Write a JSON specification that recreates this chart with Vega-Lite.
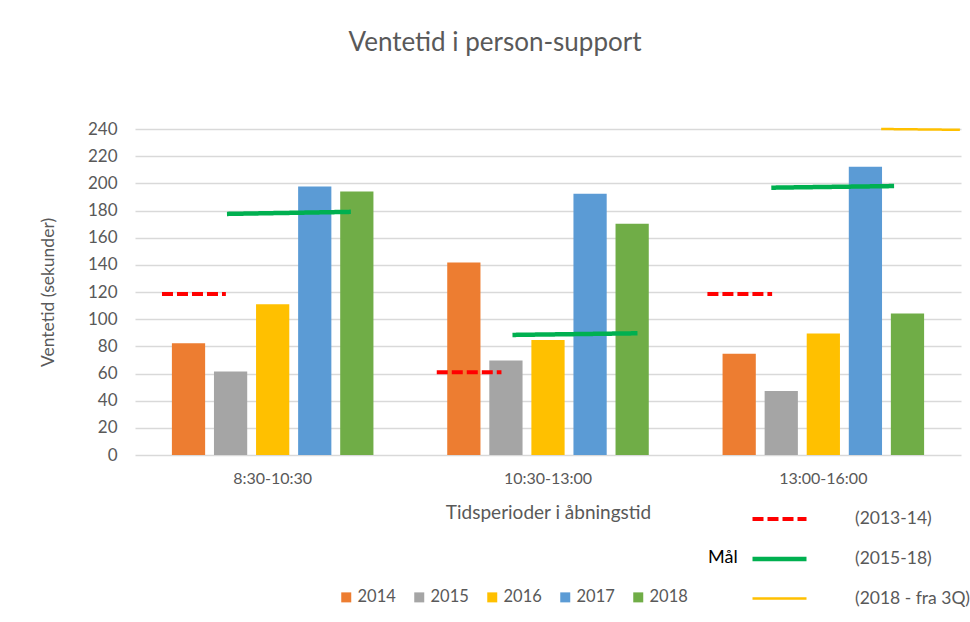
{
  "$schema": "https://vega.github.io/schema/vega-lite/v6.json",
  "width": 826,
  "height": 326,
  "autosize": {"type": "none"},
  "padding": {"left": 135, "top": 129, "right": 9, "bottom": 167},
  "background": "white",
  "config": {"font": "Lato", "view": {"stroke": null}},
  "title": {
    "text": "Ventetid i person-support",
    "fontSize": 26,
    "fontWeight": "normal",
    "color": "#595959",
    "anchor": "middle",
    "frame": "group",
    "dx": -53,
    "baseline": "alphabetic",
    "offset": 43
  },
  "datasets": {
    "bars": [
      {"periode": "8:30-10:30", "år": "2014", "sekunder": 82.3},
      {"periode": "8:30-10:30", "år": "2015", "sekunder": 61.4},
      {"periode": "8:30-10:30", "år": "2016", "sekunder": 111},
      {"periode": "8:30-10:30", "år": "2017", "sekunder": 197.7},
      {"periode": "8:30-10:30", "år": "2018", "sekunder": 194},
      {"periode": "10:30-13:00", "år": "2014", "sekunder": 141.7},
      {"periode": "10:30-13:00", "år": "2015", "sekunder": 69.5},
      {"periode": "10:30-13:00", "år": "2016", "sekunder": 84.7},
      {"periode": "10:30-13:00", "år": "2017", "sekunder": 192.3},
      {"periode": "10:30-13:00", "år": "2018", "sekunder": 170.2},
      {"periode": "13:00-16:00", "år": "2014", "sekunder": 74.6},
      {"periode": "13:00-16:00", "år": "2015", "sekunder": 47.2},
      {"periode": "13:00-16:00", "år": "2016", "sekunder": 89.4},
      {"periode": "13:00-16:00", "år": "2017", "sekunder": 212.2},
      {"periode": "13:00-16:00", "år": "2018", "sekunder": 104.1}
    ],
    "goals": [
      {"mål": "(2013-14)", "fra": 0.098, "til": 0.33, "start": 118.6, "slut": 118.6},
      {"mål": "(2015-18)", "fra": 0.334, "til": 0.784, "start": 177.5, "slut": 179},
      {"mål": "(2013-14)", "fra": 1.096, "til": 1.331, "start": 61, "slut": 61},
      {"mål": "(2015-18)", "fra": 1.371, "til": 1.825, "start": 88.4, "slut": 89.6},
      {"mål": "(2013-14)", "fra": 2.079, "til": 2.314, "start": 118.6, "slut": 118.6},
      {"mål": "(2015-18)", "fra": 2.311, "til": 2.757, "start": 196.8, "slut": 198},
      {"mål": "(2018 - fra 3Q)", "fra": 2.71, "til": 2.996, "start": 240, "slut": 239.4}
    ]
  },
  "layer": [
    {
      "data": {"name": "bars"},
      "mark": {"type": "bar"},
      "encoding": {
        "x": {
          "field": "periode",
          "type": "nominal",
          "sort": ["8:30-10:30", "10:30-13:00", "13:00-16:00"],
          "scale": {"paddingInner": 0.268, "paddingOuter": 0.134},
          "title": "Tidsperioder i åbningstid",
          "axis": {
            "labelAngle": 0,
            "labelFontSize": 16,
            "labelColor": "#595959",
            "labelPadding": 15,
            "ticks": false,
            "tickSize": 0,
            "domain": false,
            "titleFontSize": 19,
            "titleFontWeight": "normal",
            "titleColor": "#595959",
            "titleBaseline": "middle",
            "titleY": 57
          }
        },
        "xOffset": {
          "field": "år",
          "type": "nominal",
          "scale": {"paddingInner": 0.21, "paddingOuter": 0}
        },
        "y": {
          "field": "sekunder",
          "type": "quantitative",
          "scale": {"domain": [0, 240]},
          "title": "Ventetid (sekunder)",
          "axis": {
            "values": [0, 20, 40, 60, 80, 100, 120, 140, 160, 180, 200, 220, 240],
            "tickCount": 30,
            "labelOverlap": false,
            "domain": false,
            "ticks": false,
            "labelFontSize": 17,
            "labelColor": "#595959",
            "labelPadding": 18,
            "gridColor": "#d9d9d9",
            "gridWidth": 1.3,
            "titleFontSize": 17.5,
            "titleFontWeight": "normal",
            "titleColor": "#595959",
            "titleX": -87,
            "titleY": 163,
            "titleAngle": -90,
            "titleAlign": "center",
            "titleBaseline": "middle"
          }
        },
        "color": {
          "field": "år",
          "type": "nominal",
          "scale": {
            "domain": ["2014", "2015", "2016", "2017", "2018"],
            "range": ["#ED7D31", "#A5A5A5", "#FFC000", "#5B9BD5", "#70AD47"]
          },
          "legend": {
            "orient": "none",
            "legendX": 203,
            "legendY": 460,
            "direction": "horizontal",
            "title": null,
            "symbolType": "square",
            "symbolSize": 100,
            "symbolStrokeWidth": 0,
            "labelFontSize": 16.5,
            "labelColor": "#595959",
            "labelOffset": 3,
            "columnPadding": 15,
            "padding": 0
          }
        }
      }
    },
    {
      "data": {"name": "goals"},
      "mark": {"type": "rule"},
      "encoding": {
        "x": {"field": "fra", "type": "quantitative", "scale": {"domain": [0, 3]}, "axis": null},
        "x2": {"field": "til"},
        "y": {
          "field": "start",
          "type": "quantitative",
          "title": "Ventetid (sekunder)",
          "axis": {
            "values": [0, 20, 40, 60, 80, 100, 120, 140, 160, 180, 200, 220, 240],
            "tickCount": 30,
            "labelOverlap": false,
            "domain": false,
            "ticks": false,
            "labelFontSize": 17,
            "labelColor": "#595959",
            "labelPadding": 18,
            "gridColor": "#d9d9d9",
            "gridWidth": 1.3,
            "titleFontSize": 17.5,
            "titleFontWeight": "normal",
            "titleColor": "#595959",
            "titleX": -87,
            "titleY": 163,
            "titleAngle": -90,
            "titleAlign": "center",
            "titleBaseline": "middle"
          }
        },
        "y2": {"field": "slut"},
        "stroke": {
          "field": "mål",
          "type": "nominal",
          "scale": {
            "domain": ["(2013-14)", "(2015-18)", "(2018 - fra 3Q)"],
            "range": ["#FF0000", "#00B050", "#FFC000"]
          },
          "legend": {
            "orient": "none",
            "legendX": 573,
            "legendY": 379,
            "direction": "vertical",
            "title": "Mål",
            "titleOrient": "left",
            "titleAnchor": "middle",
            "titleBaseline": "middle",
            "titleFontSize": 18,
            "titleFontWeight": "normal",
            "titleColor": "#000000",
            "titlePadding": 30,
            "labelFontSize": 17.5,
            "labelColor": "#595959",
            "labelOffset": 64,
            "symbolType": "M-3,0H3",
            "symbolSize": 324,
            "rowPadding": 19.5,
            "padding": 0
          }
        },
        "strokeDash": {
          "field": "mål",
          "type": "nominal",
          "scale": {
            "domain": ["(2013-14)", "(2015-18)", "(2018 - fra 3Q)"],
            "range": [[11, 4], [1, 0], [1, 0]]
          }
        },
        "strokeWidth": {
          "field": "mål",
          "type": "nominal",
          "scale": {
            "type": "ordinal",
            "domain": ["(2013-14)", "(2015-18)", "(2018 - fra 3Q)"],
            "range": [4, 4.5, 2.5]
          }
        }
      }
    }
  ],
  "resolve": {"scale": {"x": "independent"}, "axis": {"x": "independent"}}
}
